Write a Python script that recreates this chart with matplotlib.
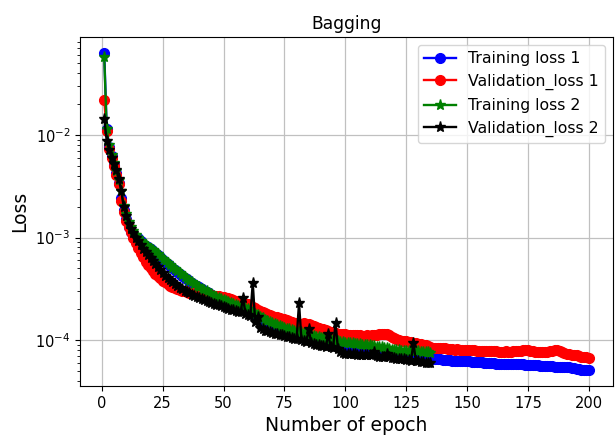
import numpy as np
import matplotlib
matplotlib.use("Agg")
import matplotlib.pyplot as plt

# Loss values, stored in units of 1e-5
train_loss_1 = [
    6300, 1150, 770, 620, 505, 425, 340, 245, 185, 150,
    128, 114, 104, 97, 98, 92, 87, 83, 80, 77,
    74, 71, 68, 64.5, 61, 58, 55.5, 53, 50.5, 48.5,
    46.5, 44.5, 42.5, 40.6, 39.1, 37.6, 36.1, 34.8, 33.6, 32.6,
    31.4, 30.4, 29.5, 28.5, 27.6, 26.7, 26.1, 25.4, 24.8, 24.2,
    23.6, 23.1, 22.6, 22.1, 21.7, 21.3, 20.9, 20.5, 20.1, 19.7,
    18.4, 17.8, 17.2, 16.5, 16, 15.5, 15, 14.6, 14.2, 13.9,
    13.3, 13, 12.7, 12.4, 12.1, 11.9, 11.7, 11.5, 11.3, 11.1,
    10.9, 10.8, 10.6, 10.5, 10.3, 10.1, 9.9, 9.7, 9.6, 9.5,
    9.4, 9.3, 9.2, 9.1, 9.0, 8.9, 8.7, 8.6, 8.6, 8.5,
    8.5, 8.4, 8.4, 8.3, 8.2, 8.2, 8.1, 8.1, 8.0, 8.0,
    7.9, 7.8, 7.7, 7.7, 7.6, 7.6, 7.5, 7.4, 7.3, 7.2,
    7.2, 7.1, 7.0, 7.0, 6.9, 6.9, 6.8, 6.8, 6.8, 6.7,
    6.7, 6.7, 6.6, 6.6, 6.6, 6.6, 6.5, 6.5, 6.5, 6.4,
    6.4, 6.4, 6.4, 6.3, 6.3, 6.3, 6.3, 6.2, 6.2, 6.2,
    6.2, 6.1, 6.1, 6.1, 6.1, 6.1, 6.0, 6.0, 6.0, 6.0,
    6.0, 5.9, 5.9, 5.9, 5.9, 5.9, 5.9, 5.8, 5.8, 5.8,
    5.8, 5.8, 5.8, 5.7, 5.7, 5.7, 5.7, 5.7, 5.7, 5.6,
    5.6, 5.6, 5.6, 5.6, 5.6, 5.5, 5.5, 5.5, 5.5, 5.5,
    5.5, 5.5, 5.4, 5.3, 5.2, 5.2, 5.1, 5.1, 5.1, 5.1,
]

val_loss_1 = [
    2200, 1100, 730, 600, 500, 410, 330, 225, 178, 146,
    126, 112, 98, 88, 79, 71, 64, 58, 54, 50,
    47, 44.5, 42, 40, 37.5, 36.5, 35, 33.8, 33, 32,
    31.3, 30.9, 30.2, 29.8, 29.4, 29.1, 28.7, 28.6, 28.3, 28.2,
    28, 27.9, 27.6, 27.5, 27.5, 27.1, 27, 26.7, 26.5, 26.1,
    25.8, 25.5, 24.9, 24.7, 24.1, 23.9, 23.3, 23.1, 22.5, 22.3,
    21.6, 21, 20.5, 19.8, 19.2, 18.8, 18.3, 17.9, 17.6, 17.2,
    16.9, 16.7, 16.4, 16.2, 15.9, 15.6, 15.4, 15.1, 14.8, 14.6,
    14.5, 14.4, 14.6, 14.5, 14.3, 14, 13.7, 13.4, 13.2, 12.9,
    12.7, 12.6, 12.3, 12.1, 11.9, 11.8, 11.6, 11.5, 11.5, 11.4,
    11.3, 11.3, 11.2, 11.2, 11.1, 11.1, 11, 11, 11.1, 11,
    11.1, 11.2, 11.3, 11.4, 11.5, 11.5, 11.4, 11.1, 10.8, 10.5,
    10.3, 10.1, 9.9, 9.8, 9.7, 9.6, 9.5, 9.4, 9.3, 9.2,
    9.1, 9, 8.9, 8.7, 8.6, 8.4, 8.4, 8.4, 8.3, 8.3,
    8.3, 8.2, 8.2, 8.2, 8.1, 8.2, 8.1, 8.1, 8.1, 8.1,
    8, 8, 8, 7.9, 7.9, 7.9, 7.9, 7.8, 7.8, 7.8,
    7.8, 7.8, 7.7, 7.7, 7.7, 7.8, 7.7, 7.7, 7.8, 7.8,
    7.9, 7.9, 8.0, 8.0, 8.0, 7.9, 7.8, 7.7, 7.7, 7.6,
    7.6, 7.6, 7.7, 7.8, 7.9, 8.0, 8.0, 7.9, 7.7, 7.5,
    7.4, 7.3, 7.2, 7.2, 7.1, 7.0, 6.9, 6.9, 6.8, 6.7,
]

train_loss_2 = [
    5700, 1150, 790, 640, 530, 440, 360, 285, 205, 168,
    142, 126, 116, 106, 99, 93, 88, 84, 81, 78,
    75, 72, 68.5, 65, 61.5, 58.5, 56, 53.5, 51, 49,
    47, 45, 43, 41, 39.5, 38, 36.5, 35.2, 34, 33,
    31.8, 30.8, 29.8, 28.8, 27.9, 27, 26.4, 25.7, 25.1, 24.5,
    23.9, 23.4, 22.9, 22.4, 22, 21.6, 21.2, 20.8, 20.4, 20,
    19.3, 18.7, 18.1, 17.4, 16.8, 16.3, 15.8, 15.4, 15, 14.7,
    14.3, 14, 13.7, 13.4, 13.1, 12.9, 12.7, 12.5, 12.3, 12.1,
    12, 11.9, 11.7, 11.6, 11.4, 11.2, 11, 10.8, 10.7, 10.5,
    10.4, 10.3, 10.2, 10.1, 10, 9.9, 9.7, 9.6, 9.5, 9.4,
    9.4, 9.3, 9.3, 9.2, 9.1, 9.1, 9, 9, 8.9, 8.9,
    8.8, 8.7, 8.6, 8.6, 8.5, 8.4, 8.3, 8.2, 8.1, 8.0,
    8.0, 8.0, 7.9, 7.9, 7.9, 7.9, 7.8, 7.9, 7.8, 7.8,
    7.7, 7.7, 7.6, 7.6, 7.5,
]

val_loss_2 = [
    1440, 880, 720, 590, 520, 450, 370, 285, 200, 162,
    136, 120, 110, 100, 92, 85, 78, 72, 67, 63,
    59, 55.5, 52, 48.5, 45.5, 42.5, 40.5, 38.5, 36.5, 35,
    33.5, 32.5, 31.2, 30.2, 29.3, 28.5, 27.7, 27, 26.3, 25.7,
    25.1, 24.6, 24, 23.6, 23.1, 22.6, 22.2, 21.8, 21.4, 21,
    20.6, 20.2, 19.8, 19.5, 19.2, 18.9, 18.6, 26, 18.1, 17.6,
    17.3, 36, 15, 16.8, 13, 12.7, 12.4, 12.2, 12, 11.8,
    11.6, 11.4, 11.3, 11.1, 11, 10.8, 10.7, 10.5, 10.3, 10.2,
    23, 10, 9.8, 9.6, 12.8, 9.3, 9.1, 9, 8.9, 8.8,
    8.7, 8.6, 11.5, 8.5, 8.4, 14.8, 8.2, 7.7, 7.5, 7.4,
    7.4, 7.3, 7.3, 7.3, 7.2, 7.2, 7.2, 7.2, 7.1, 7.1,
    7.1, 7.6, 7, 6.9, 6.9, 6.8, 7.3, 6.8, 6.7, 6.7,
    6.6, 6.6, 6.5, 6.5, 6.4, 6.4, 6.3, 9.4, 6.2, 6.2,
    6.1, 6.1, 6.0, 6.0, 6.0,
]

UNIT = 1e-5

series = [
    ("Training loss 1", train_loss_1, "blue", "o", 7),
    ("Validation_loss 1", val_loss_1, "red", "o", 7),
    ("Training loss 2", train_loss_2, "green", "*", 8),
    ("Validation_loss 2", val_loss_2, "black", "*", 8),
]

fig = plt.figure(figsize=(6.16, 4.4), dpi=100)
ax = fig.add_axes([0.1299, 0.1227, 0.8652, 0.7932])

for label, values, color, marker, size in series:
    vals = np.asarray(values, dtype=float) * UNIT
    epochs = np.arange(1, len(vals) + 1)
    ax.plot(epochs, vals, color=color, marker=marker, markersize=size,
            linewidth=1.7, label=label)

ax.set_yscale("log")
ax.set_xticks([0, 25, 50, 75, 100, 125, 150, 175, 200])
ax.tick_params(axis="both", which="major", labelsize=10.5)
ax.grid(True, which="major", color="#c0c0c0", linewidth=0.9)
ax.set_xlabel("Number of epoch", fontsize=13.5)
ax.set_ylabel("Loss", fontsize=13.5)
ax.set_title("Bagging", fontsize=12.3)
ax.legend(loc="upper right", fontsize=11.3)

fig.savefig("out.png", dpi=100)
